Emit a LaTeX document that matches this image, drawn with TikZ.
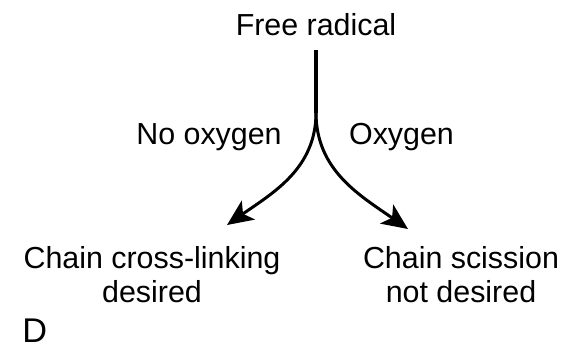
\documentclass[tikz,border=0pt]{standalone}
\usepackage{fontspec}
\setmainfont{Liberation Sans}
\usepackage{tikz}
\usetikzlibrary{arrows.meta,positioning}

\begin{document}
\begin{tikzpicture}[
		txt/.style={inner sep=0pt, align=center, font=\fontsize{17.3}{19.4}\selectfont},
		branch/.style={line width=1.7pt, -{Stealth[length=5.2mm,width=4.6mm,inset=1.3mm]}}
	]
		\useasboundingbox (0,0) rectangle (11.56,-7);

		\node[txt] (free) at (6.32,-0.5) {Free radical};
		\coordinate (top) at (6.32,-1.0);
		\coordinate (split) at (6.32,-2.25);

		\node[txt] (noox) at (4.18,-2.74) {No oxygen};
		\node[txt] (ox) at (8.03,-2.74) {Oxygen};

		\coordinate (ltip) at (4.54,-4.5);
		\coordinate (rtip) at (8.16,-4.58);

		\node[txt] (cross) at (3.04,-5.5) {Chain cross-linking\\desired};
		\node[txt] (sciss) at (9.22,-5.5) {Chain scission\\not desired};
		\node[txt, anchor=west, font=\fontsize{19.5}{22}\selectfont] (panel) at (0.44,-6.62) {D};

		\draw[line width=2.1pt] (top) -- (split);
		\draw[branch] (split) to[out=-90, in=35] (ltip);
		\draw[branch] (split) to[out=-90, in=145] (rtip);
	\end{tikzpicture}
\end{document}
